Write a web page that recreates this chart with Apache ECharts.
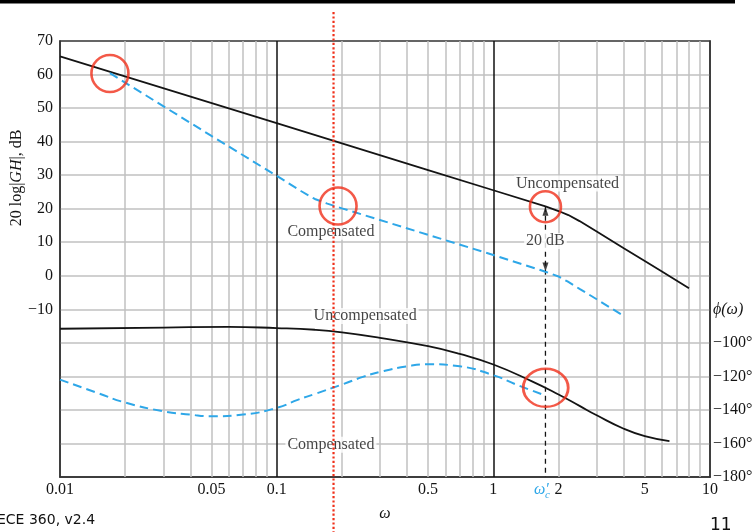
<!DOCTYPE html>
<html><head><meta charset="utf-8">
<script src="https://cdn.jsdelivr.net/npm/echarts@6/dist/echarts.min.js"></script>
<style>html,body{margin:0;padding:0;background:#fff}#c{width:756px;height:532px}</style>
</head><body><div id="c"></div>
<script>
// ---------- data ----------
const xLabelTicks = [0.01, 0.05, 0.1, 0.5, 1, 2, 5, 10];
const xMinorGrid = [0.02,0.03,0.04,0.05,0.06,0.07,0.08,0.09,0.2,0.3,0.4,0.5,0.6,0.7,0.8,0.9,2,3,4,5,6,7,8,9];
const xDecadeGrid = [0.1, 1];
const dbTicks = [70, 60, 50, 40, 30, 20, 10, 0, -10];
const phaseTicks = [-100, -120, -140, -160, -180];
const phaseNameTick = -80;

const uncompMag = [[0.01,65.4],[0.1,45.5],[0.5,31.5],[1,25.5],[1.74,20.7],[2,19.3],[2.22,18.1],[2.5,16.3],[3,13.2],[4,8.2],[5,4.4],[6,1.3],[8,-3.7]];
const compMag = [[0.017,60.4],[0.05,41.7],[0.1,29.8],[0.13,25.2],[0.15,22.9],[0.17,21.6],[0.2,20.1],[0.25,18.2],[0.5,12.2],[1,6.2],[1.74,1.2],[2,-0.2],[2.2,-1.7],[2.5,-3.9],[3,-7.0],[4,-12.0]];
const uncompPhase = [[0.01,-91.6],[0.03,-90.9],[0.06,-90.5],[0.1,-91.2],[0.15,-92.2],[0.2,-93.7],[0.3,-97.0],[0.5,-102.0],[0.7,-106.6],[1,-112.9],[1.5,-122.8],[2,-130.8],[2.5,-137.6],[3,-143.2],[4,-151.2],[5,-155.6],[6.5,-158.6]];
const compPhase = [[0.01,-121.9],[0.015,-130.0],[0.02,-135.6],[0.03,-140.8],[0.04,-142.8],[0.05,-143.8],[0.07,-142.8],[0.1,-138.8],[0.125,-134.0],[0.15,-130.5],[0.2,-124.9],[0.25,-120.3],[0.3,-117.3],[0.4,-114.0],[0.5,-112.8],[0.7,-114.0],[1,-119.3],[1.3,-125.3],[1.74,-131.4]];

const omegaC = 1.74;            // ω'c
const omegaCTopDb = 20.6;       // top of the 20 dB arrow
const omegaCBottomDb = 1.3;     // bottom arrow tip
const redMarkerOmega = 0.183;   // red dotted marker

// ---------- styles ----------
const serif = '"Liberation Serif","DejaVu Serif",serif';
const BLUE = '#2ea7e8', RED = '#f0301a', GRIDC = '#c0c0c0', INK = '#141414', BORDER = '#333';
const minus = v => (v < 0 ? '\u2212' + (-v) : '' + v);

const chart = echarts.init(document.getElementById('c'));
const option = {
  animation: false,
  grid: {left: 60, right: 46, top: 41, bottom: 55, show: true, borderColor: BORDER, borderWidth: 1.5},
  xAxis: {
    type: 'log', logBase: 10, min: 0.01, max: 10,
    name: 'ω', nameLocation: 'middle', nameGap: 29,
    nameTextStyle: {fontFamily: serif, fontStyle: 'italic', fontSize: 16, color: INK},
    axisLine: {show: true, onZero: false, lineStyle: {color: BORDER, width: 1.5}},
    axisTick: {show: false}, splitLine: {show: false},
    axisLabel: {customValues: xLabelTicks, fontFamily: serif, fontSize: 16, color: INK, margin: 5,
      formatter: v => String(+(+v).toPrecision(3))}
  },
  yAxis: [
    {type: 'value', min: -60, max: 70, interval: 10,
      axisLine: {show: true, lineStyle: {color: BORDER, width: 1.5}}, axisTick: {show: false},
      splitLine: {show: true, showMaxLine: false, showMinLine: false, lineStyle: {color: GRIDC, width: 1.5}},
      axisLabel: {fontFamily: serif, fontSize: 16, color: INK, margin: 7,
        formatter: v => dbTicks.includes(v) ? minus(v) : ''}},
    {type: 'value', min: -180, max: 80, interval: 20, position: 'right',
      axisLine: {show: true, lineStyle: {color: BORDER, width: 1.5}}, axisTick: {show: false},
      splitLine: {show: false},
      axisLabel: {fontFamily: serif, fontSize: 16, color: INK, margin: 3,
        formatter: v => phaseTicks.includes(v) ? minus(v) + '°' : (v === phaseNameTick ? '{p|ϕ(ω)}' : ''),
        rich: {p: {fontFamily: serif, fontStyle: 'italic', fontSize: 16, color: INK}}}}
  ],
  series: [
    {name: 'Uncompensated magnitude', type: 'line', data: uncompMag, symbol: 'none', z: 4,
      lineStyle: {color: INK, width: 1.8},
      markLine: {silent: true, symbol: 'none', z: 1, label: {show: false},
        lineStyle: {color: GRIDC, width: 1.5, type: 'solid'},
        data: xMinorGrid.map(v => ({xAxis: v})).concat(
          xDecadeGrid.map(v => ({xAxis: v, lineStyle: {color: '#111', width: 1.5, type: 'solid'}})))}},
    {name: 'Compensated magnitude', type: 'line', data: compMag, symbol: 'none', z: 4,
      lineStyle: {color: BLUE, width: 2, type: [9, 5]}},
    {name: 'Uncompensated phase', type: 'line', yAxisIndex: 1, data: uncompPhase, symbol: 'none', smooth: 0.5, z: 4,
      lineStyle: {color: INK, width: 1.8}},
    {name: 'Compensated phase', type: 'line', yAxisIndex: 1, data: compPhase, symbol: 'none', smooth: 0.5, z: 4,
      lineStyle: {color: BLUE, width: 2, type: [9, 5]}},
    {name: 'wc line', type: 'line', data: [[omegaC, omegaCTopDb], [omegaC, -60]], symbol: 'none', z: 3,
      lineStyle: {color: INK, width: 1.3, type: [5, 4]}},
    {name: 'arrows', type: 'scatter', z: 6, silent: true,
      data: [
        {value: [omegaC, omegaCTopDb], symbol: 'triangle', symbolSize: [6, 9], symbolOffset: [0, '50%']},
        {value: [omegaC, omegaCBottomDb], symbol: 'triangle', symbolSize: [6, 9], symbolRotate: 180, symbolOffset: [0, '-50%']}
      ], itemStyle: {color: INK}},
    {name: 'labels', type: 'scatter', z: 7, silent: true, symbolSize: 0,
      label: {show: true, position: 'inside', fontFamily: serif, fontSize: 16, color: INK,
        backgroundColor: '#fff', padding: [0, 2], formatter: p => p.name},
      data: [
        {name: 'Uncompensated', value: [2.2, 27.5]},
        {name: 'Compensated', value: [0.178, 13.1]},
        {name: '20 dB', value: [omegaC, 10.4]},
        {name: 'Uncompensated', value: [0.256, -12.0]},
        {name: 'Compensated', value: [0.178, -50.4]}
      ]},
    {name: 'circles', type: 'scatter', z: 8, silent: true, symbol: 'circle',
      itemStyle: {color: 'rgba(0,0,0,0)', borderColor: RED, borderWidth: 2.6},
      data: [
        {value: [0.017, 60.3], symbolSize: 37},
        {value: [0.192, 20.8], symbolSize: 37},
        {value: [1.74, 20.6], symbolSize: 31}
      ]},
    {name: 'ellipse', type: 'scatter', yAxisIndex: 1, z: 8, silent: true, symbol: 'circle',
      itemStyle: {color: 'rgba(0,0,0,0)', borderColor: RED, borderWidth: 2.6},
      data: [{value: [1.745, -126.8], symbolSize: [45, 38]}]}
  ]
};
chart.setOption(option);

const redX = chart.convertToPixel({xAxisIndex: 0, yAxisIndex: 0}, [redMarkerOmega, 0])[0];
const wcPix = chart.convertToPixel({xAxisIndex: 0, yAxisIndex: 0}, [omegaC, -60]);
chart.setOption({
  graphic: [
    {type: 'rect', z: 100, shape: {x: 0, y: 0, width: 735, height: 3.5}, style: {fill: '#000'}},
    {type: 'line', z: 100, silent: true, shape: {x1: redX, y1: 12, x2: redX, y2: 532},
      style: {stroke: RED, lineWidth: 2.2, lineDash: [2.2, 2.2]}},
    {type: 'text', z: 100, x: wcPix[0] - 4, y: wcPix[1] + 13,
      style: {text: 'ω′', font: 'italic 16px ' + serif, fill: BLUE, align: 'center', verticalAlign: 'middle'}},
    {type: 'text', z: 100, x: wcPix[0] + 2, y: wcPix[1] + 18,
      style: {text: 'c', font: 'italic 11px ' + serif, fill: BLUE, align: 'center', verticalAlign: 'middle'}},
    {type: 'text', z: 100, x: 17, y: 178, rotation: Math.PI / 2,
      style: {text: '20 log|{i|GH}|, dB', font: '16px ' + serif, fill: INK, align: 'center', verticalAlign: 'middle',
        rich: {i: {fontStyle: 'italic', fontFamily: serif, fontSize: 16, fill: INK}}}},
    {type: 'text', z: 100, x: -3, y: 520,
      style: {text: 'ECE 360, v2.4', font: '14px "DejaVu Sans",sans-serif', fill: '#111', verticalAlign: 'middle'}},
    {type: 'text', z: 100, x: 710, y: 534,
      style: {text: '11', font: '17px "DejaVu Sans",sans-serif', fill: '#111', verticalAlign: 'bottom'}}
  ]
});
</script>
</body></html>
